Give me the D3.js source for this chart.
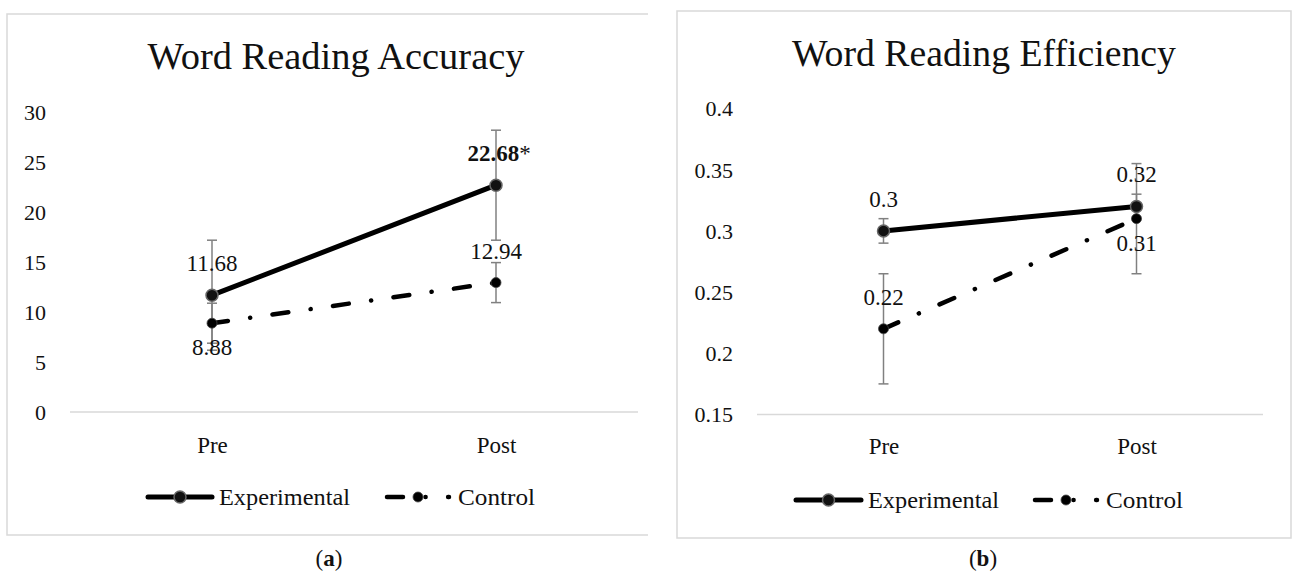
<!DOCTYPE html>
<html>
<head>
<meta charset="utf-8">
<script src="https://cdn.jsdelivr.net/npm/d3@7"></script>
<style>
  html, body { margin: 0; padding: 0; background: #fff; }
  svg { display: block; }
  svg text { font-family: "Liberation Serif", "Times New Roman", serif; }
</style>
</head>
<body>
<svg id="chart" width="1293" height="573"></svg>
<script>
// ---------- data ----------
const categories = ["Pre", "Post"];
const seriesNames = ["Experimental", "Control"];

// (a) Word Reading Accuracy
const accTitle = "Word Reading Accuracy";
const accExp = [11.68, 22.68];
const accCtrl = [8.88, 12.94];
const accExpErr = [5.5, 5.5];
const accCtrlErr = [2.0, 2.0];
const accExpLabels = ["11.68", "22.68"];
const accExpSuffix = ["", "*"];
const accCtrlLabels = ["8.88", "12.94"];
const accTicks = [0, 5, 10, 15, 20, 25, 30];
const accTickLabels = ["0", "5", "10", "15", "20", "25", "30"];
const accExpPos = ["above", "above"];
const accCtrlPos = ["below", "above"];

// (b) Word Reading Efficiency
const effTitle = "Word Reading Efficiency";
const effExp = [0.30, 0.32];
const effCtrl = [0.22, 0.31];
const effExpErr = [0.01, 0.01];
const effCtrlErr = [0.045, 0.045];
const effExpLabels = ["0.3", "0.32"];
const effExpSuffix = ["", ""];
const effCtrlLabels = ["0.22", "0.31"];
const effTicks = [0.15, 0.2, 0.25, 0.3, 0.35, 0.4];
const effTickLabels = ["0.15", "0.2", "0.25", "0.3", "0.35", "0.4"];
const effExpPos = ["above", "above"];
const effCtrlPos = ["above", "below"];

const captions = ["a", "b"];

// ---------- drawing ----------
const svg = d3.select("#chart");
const TXT = "#111";
const GRID = "#d9d9d9";
const ERR = "#808080";
const DASH = "16,22.5,0.1,22.5";

function fitText(sel, w) {
  sel.attr("textLength", w).attr("lengthAdjust", "spacingAndGlyphs");
}

function panel(cfg) {
  const g = svg.append("g");

  // frame
  const b = cfg.box;
  const p = d3.path();
  if (cfg.openRight) {
    p.moveTo(b.x1, b.y0); p.lineTo(b.x0, b.y0); p.lineTo(b.x0, b.y1); p.lineTo(b.x1, b.y1);
  } else {
    p.moveTo(b.x0, b.y0); p.lineTo(b.x1, b.y0); p.lineTo(b.x1, b.y1); p.lineTo(b.x0, b.y1); p.closePath();
  }
  g.append("path").attr("d", p.toString()).attr("fill", "none")
    .attr("stroke", GRID).attr("stroke-width", 1.5);

  const x = d3.scalePoint().domain(categories).range([cfg.ax0, cfg.ax1]).padding(0.5);
  const y = d3.scaleLinear().domain([cfg.ticks[0], cfg.ticks[cfg.ticks.length - 1]])
    .range([cfg.yBottom, cfg.yTop]);

  // title
  g.append("text").attr("x", cfg.titleX).attr("y", cfg.titleY)
    .attr("text-anchor", "middle").attr("font-size", 37).attr("fill", TXT)
    .text(cfg.title).call(fitText, cfg.titleW);

  // y axis labels
  const ya = g.append("g").attr("transform", `translate(${cfg.tickX},0)`)
    .call(d3.axisLeft(y).tickValues(cfg.ticks).tickSize(0).tickPadding(0)
      .tickFormat((d, i) => cfg.tickLabels[i]));
  ya.attr("font-family", null).attr("font-size", null);
  ya.select(".domain").remove();
  ya.selectAll("text").attr("font-size", 22).attr("fill", TXT).attr("dy", "0.34em");

  // baseline
  g.append("line").attr("x1", cfg.ax0).attr("x2", cfg.ax1)
    .attr("y1", y(cfg.ticks[0])).attr("y2", y(cfg.ticks[0]))
    .attr("stroke", GRID).attr("stroke-width", 1.5);

  // x axis labels
  const xa = g.append("g").attr("transform", `translate(0,${y(cfg.ticks[0])})`)
    .call(d3.axisBottom(x).tickSize(0).tickPadding(cfg.catPad));
  xa.attr("font-family", null).attr("font-size", null);
  xa.select(".domain").remove();
  xa.selectAll("text").attr("font-size", 23).attr("fill", TXT);

  const line = d3.line().x((d, i) => x(categories[i])).y(d => y(d));

  // lines
  g.append("path").datum(cfg.exp).attr("d", line).attr("fill", "none")
    .attr("stroke", "#000").attr("stroke-width", 5).attr("stroke-linecap", "round");
  g.append("path").datum(cfg.ctrl).attr("d", line).attr("fill", "none")
    .attr("stroke", "#000").attr("stroke-width", 4.5).attr("stroke-linecap", "round")
    .attr("stroke-dasharray", DASH);

  // error bars
  function errBars(vals, errs) {
    vals.forEach((v, i) => {
      const cx = x(categories[i]);
      const yt = y(v + errs[i]), yb = y(v - errs[i]);
      g.append("line").attr("x1", cx).attr("x2", cx).attr("y1", yt).attr("y2", yb)
        .attr("stroke", ERR).attr("stroke-width", 1.5);
      [yt, yb].forEach(yy => g.append("line").attr("x1", cx - 5).attr("x2", cx + 5)
        .attr("y1", yy).attr("y2", yy).attr("stroke", ERR).attr("stroke-width", 1.5));
    });
  }
  errBars(cfg.exp, cfg.expErr);
  errBars(cfg.ctrl, cfg.ctrlErr);

  // markers
  g.selectAll(null).data(cfg.exp).enter().append("circle")
    .attr("cx", (d, i) => x(categories[i])).attr("cy", d => y(d)).attr("r", 6)
    .attr("fill", "#111").attr("stroke", "#666").attr("stroke-width", 1.5);
  g.selectAll(null).data(cfg.ctrl).enter().append("circle")
    .attr("cx", (d, i) => x(categories[i])).attr("cy", d => y(d)).attr("r", 5)
    .attr("fill", "#000").attr("stroke", "#444").attr("stroke-width", 0.8);

  // data labels
  function labels(vals, txts, pos, suffix, boldFlags) {
    vals.forEach((v, i) => {
      const t = g.append("text").attr("x", x(categories[i]) + (suffix && suffix[i] ? 3 : 0))
        .attr("y", y(v) + (pos[i] === "above" ? -24 : 32))
        .attr("text-anchor", "middle").attr("font-size", 23).attr("fill", TXT);
      const tt = t.append("tspan").text(txts[i]);
      if (boldFlags && boldFlags[i]) tt.attr("font-weight", "bold");
      if (suffix && suffix[i]) t.append("tspan").text(suffix[i]);
    });
  }
  labels(cfg.exp, cfg.expLabels, cfg.expPos, cfg.expSuffix, cfg.expSuffix.map(s => s !== ""));
  labels(cfg.ctrl, cfg.ctrlLabels, cfg.ctrlPos, null, null);

  // legend
  const L = cfg.legend;
  g.append("line").attr("x1", L.ex0).attr("x2", L.ex1).attr("y1", L.y).attr("y2", L.y)
    .attr("stroke", "#000").attr("stroke-width", 5).attr("stroke-linecap", "round");
  g.append("circle").attr("cx", (L.ex0 + L.ex1) / 2).attr("cy", L.y).attr("r", 6)
    .attr("fill", "#111").attr("stroke", "#666").attr("stroke-width", 1.5);
  g.append("text").attr("x", L.ex1 + 7).attr("y", L.y + 8).attr("font-size", 24).attr("fill", TXT)
    .text(seriesNames[0]).call(fitText, 131);
  g.append("line").attr("x1", L.cx0).attr("x2", L.cx0 + 62).attr("y1", L.y).attr("y2", L.y)
    .attr("stroke", "#000").attr("stroke-width", 4.5).attr("stroke-linecap", "round")
    .attr("stroke-dasharray", DASH);
  g.append("circle").attr("cx", L.cx0 + 31).attr("cy", L.y).attr("r", 5)
    .attr("fill", "#000").attr("stroke", "#444").attr("stroke-width", 0.8);
  g.append("text").attr("x", L.cx0 + 71).attr("y", L.y + 8).attr("font-size", 24).attr("fill", TXT)
    .text(seriesNames[1]).call(fitText, 77);

  // caption
  const c = g.append("text").attr("x", cfg.capX).attr("y", 566).attr("text-anchor", "middle")
    .attr("font-size", 23).attr("fill", TXT);
  c.append("tspan").text("(");
  c.append("tspan").attr("font-weight", "bold").text(cfg.caption);
  c.append("tspan").text(")");
}

panel({
  box: { x0: 7, y0: 14, x1: 648, y1: 535 }, openRight: true,
  ax0: 70, ax1: 638, yBottom: 412, yTop: 112, tickX: 46, catPad: 25,
  title: accTitle, titleX: 336, titleY: 69, titleW: 377,
  ticks: accTicks, tickLabels: accTickLabels,
  exp: accExp, ctrl: accCtrl, expErr: accExpErr, ctrlErr: accCtrlErr,
  expLabels: accExpLabels, expSuffix: accExpSuffix, ctrlLabels: accCtrlLabels,
  expPos: accExpPos, ctrlPos: accCtrlPos,
  legend: { y: 497, ex0: 148, ex1: 212, cx0: 387 },
  capX: 329, caption: captions[0]
});

panel({
  box: { x0: 677, y0: 11, x1: 1291, y1: 538 }, openRight: false,
  ax0: 757, ax1: 1263, yBottom: 414.5, yTop: 108.5, tickX: 733, catPad: 23,
  title: effTitle, titleX: 984, titleY: 66, titleW: 384,
  ticks: effTicks, tickLabels: effTickLabels,
  exp: effExp, ctrl: effCtrl, expErr: effExpErr, ctrlErr: effCtrlErr,
  expLabels: effExpLabels, expSuffix: effExpSuffix, ctrlLabels: effCtrlLabels,
  expPos: effExpPos, ctrlPos: effCtrlPos,
  legend: { y: 500, ex0: 796, ex1: 861, cx0: 1035 },
  capX: 983, caption: captions[1]
});
</script>
</body>
</html>
